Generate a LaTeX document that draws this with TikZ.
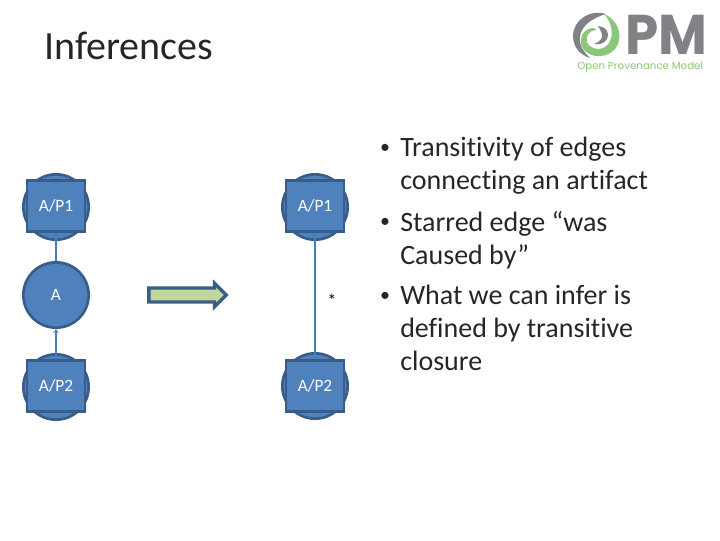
\documentclass[tikz,border=0pt]{standalone}
\usepackage{fontspec}
\setmainfont{Carlito}[Ligatures=NoCommon]
\newfontfamily\logofont{Poppins}
\usetikzlibrary{shapes.arrows,arrows.meta}
\definecolor{nodefill}{HTML}{4F81BD}
\definecolor{nodeline}{HTML}{385D8A}
\definecolor{edgeline}{HTML}{4A7EBB}
\definecolor{arrowfill}{HTML}{C3D69B}
\definecolor{logogray}{HTML}{808285}
\definecolor{logogreen}{HTML}{8CC67A}
\tikzset{
    artifact/.style = {circle, minimum size=49pt, inner sep=0pt, draw=nodeline, line width=2pt, fill=nodefill, text=white, font=\fontsize{13}{15}\selectfont},
    process/.style = {rectangle, minimum width=43.5pt, minimum height=38pt, inner sep=0pt, draw=nodeline, line width=2pt, fill=nodefill, text=white, font=\fontsize{13}{15}\selectfont},
    edge/.style = {draw=edgeline, line width=1.6pt,-{Stealth[length=3pt,width=4pt]}},
    bigarrow/.style = {single arrow, single arrow head extend=3.5pt, single arrow tip angle=90, shape border rotate=0, minimum height=58pt, inner xsep=0pt, inner ysep=4pt, draw=nodeline, line width=2.5pt, fill=arrowfill},
    bullettext/.style = {anchor=north west, inner sep=0pt, align=left, font=\fontsize{21}{24.75}\selectfont, text=black!85},
    bulletmark/.style = {inner sep=0pt, font=\fontsize{15}{15}\selectfont, text=black!85}
}
\begin{document}
\begin{tikzpicture}[x=0.75pt,y=-0.75pt]
\useasboundingbox (0,0) rectangle (720,540);

\node (title) [anchor=west, inner sep=0pt, font=\fontsize{30}{36}\selectfont, text=black!85] at (44,46) {Inferences};

% left side
\node (c1) [artifact] at (56,207) {};
\node (a) [artifact] at (56,295) {A};
\node (c2) [artifact] at (56,387) {};
\node (p1) [process] at (56,206) {A/P1};
\node (p2) [process] at (56,386) {A/P2};
\draw [edge] (a) -- (p1);
\draw [edge] (p2) -- (a);

\node (infer) [bigarrow] at (184,295) {};

% right side
\node (c3) [artifact] at (315,207) {};
\node (c4) [artifact] at (315,386) {};
\node (p3) [process] at (315,206) {A/P1};
\node (p4) [process] at (315,386) {A/P2};
\draw [edge] (p4) -- (p3);
\node (star) [inner sep=0pt, font=\fontsize{13}{13}\selectfont] at (332,300) {*};

% bullets
\node (b1) [bulletmark] at (385,149) {•};
\node (t1) [bullettext] at (400,137) {Transitivity of edges\\connecting an artifact};
\node (b2) [bulletmark] at (385,223) {•};
\node (t2) [bullettext] at (400,211) {Starred edge “was\\Caused by”};
\node (b3) [bulletmark] at (385,297) {•};
\node (t3) [bullettext] at (400,285) {What we can infer is\\defined by transitive\\closure};

% logo
\fill [logogray] (606,14) .. controls (590,9) and (573,20) .. (573,36) .. controls (573,47) and (580,55) .. (590,58) .. controls (584,52) and (579,46) .. (580,37) .. controls (581,26) and (592,18) .. (606,14) -- cycle;
\fill [logogreen] (604,14) .. controls (618,20) and (622,34) .. (618,44) .. controls (613,56) and (597,60) .. (586,52) .. controls (580,47) and (579,38) .. (584,32) .. controls (590,27) and (595,27) .. (596,30) .. controls (590,30) and (585,36) .. (587,42) .. controls (590,50) and (603,52) .. (609,43) .. controls (614,35) and (612,22) .. (604,14) -- cycle;
\fill [logogray] (598,26) .. controls (607,27) and (610,34) .. (607,39) .. controls (604,44) and (598,45) .. (594,44) .. controls (600,42) and (603,38) .. (602,34) .. controls (601,31) and (600,29) .. (598,26) -- cycle;
\node (logopm) [anchor=west, inner sep=0pt, text=logogray, xscale=0.95, font=\logofont\bfseries\fontsize{42}{42}\selectfont] at (625,35) {PM};
\node (logotext) [anchor=west, inner sep=0pt, text=logogreen, font=\logofont\fontsize{7.7}{8}\selectfont] at (577,67) {Open Provenance Model};
\end{tikzpicture}
\end{document}
